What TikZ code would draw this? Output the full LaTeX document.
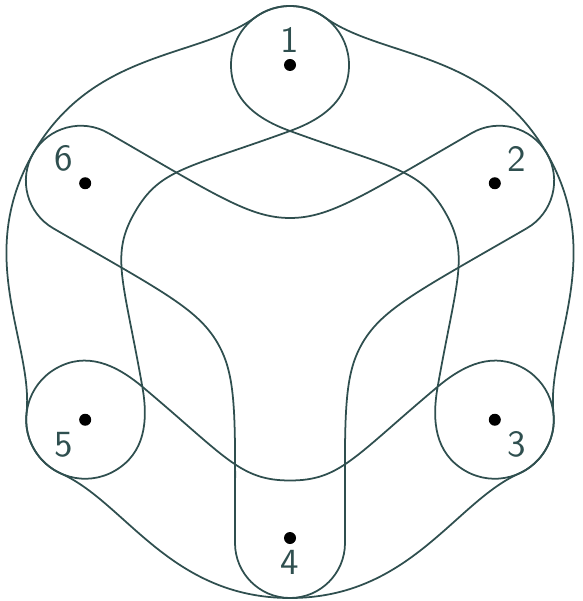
\documentclass[tikz,border=0pt]{standalone}
\usepackage{tikz}
\definecolor{slate}{HTML}{2F4F4F}
\begin{document}
\begin{tikzpicture}[
    band/.style={draw=slate, line width=0.5pt},
    vertex/.style={circle, fill=black, inner sep=0pt, minimum size=1.2mm},
    label distance=-2pt,
    every label/.style={text=slate, font=\sffamily\fontsize{10.5}{12}\selectfont}]
    \useasboundingbox (-2.90,-2.995) rectangle (2.92,3.015);

    % curve with loops at 1, 3, 5
    \draw[band] (90:1.705) .. controls +(20:0.35) and +(270:0.35) .. (0.59,2.365) arc[start angle=0, end angle=180, radius=0.59] .. controls +(270:0.35) and +(160:0.35) .. (90:1.705) .. controls +(-20:1.1) and +(120:0.5) .. (30:1.79) .. controls +(-60:0.5) and +(80:1.1) .. (-30:1.705);
    \draw[band, rotate=-120] (90:1.705) .. controls +(20:0.35) and +(270:0.35) .. (0.59,2.365) arc[start angle=0, end angle=180, radius=0.59] .. controls +(270:0.35) and +(160:0.35) .. (90:1.705) .. controls +(-20:1.1) and +(120:0.5) .. (30:1.79) .. controls +(-60:0.5) and +(80:1.1) .. (-30:1.705);
    \draw[band, rotate=120] (90:1.705) .. controls +(20:0.35) and +(270:0.35) .. (0.59,2.365) arc[start angle=0, end angle=180, radius=0.59] .. controls +(270:0.35) and +(160:0.35) .. (90:1.705) .. controls +(-20:1.1) and +(120:0.5) .. (30:1.79) .. controls +(-60:0.5) and +(80:1.1) .. (-30:1.705);

    % curve with lobes at 2, 4, 6
    \draw[band] (-0.55,-2.415) arc[start angle=180, end angle=360, radius=0.55] .. controls +(90:1.25) and +(240:0.4) .. (-30:0.835) .. controls +(60:0.4) and +(210:1.25) .. (2.3665,0.7312);
    \draw[band, rotate=120] (-0.55,-2.415) arc[start angle=180, end angle=360, radius=0.55] .. controls +(90:1.25) and +(240:0.4) .. (-30:0.835) .. controls +(60:0.4) and +(210:1.25) .. (2.3665,0.7312);
    \draw[band, rotate=240] (-0.55,-2.415) arc[start angle=180, end angle=360, radius=0.55] .. controls +(90:1.25) and +(240:0.4) .. (-30:0.835) .. controls +(60:0.4) and +(210:1.25) .. (2.3665,0.7312);

    % outer curve
    \draw[band] (-2.288,-1.7215) .. controls +(-24:0.7) and +(180:1.2) .. (0,-2.965) .. controls +(0:1.2) and +(204:0.7) .. (2.288,-1.7215) arc[start angle=294, end angle=366, radius=0.59];
    \draw[band, rotate=120] (-2.288,-1.7215) .. controls +(-24:0.7) and +(180:1.2) .. (0,-2.965) .. controls +(0:1.2) and +(204:0.7) .. (2.288,-1.7215) arc[start angle=294, end angle=366, radius=0.59];
    \draw[band, rotate=240] (-2.288,-1.7215) .. controls +(-24:0.7) and +(180:1.2) .. (0,-2.965) .. controls +(0:1.2) and +(204:0.7) .. (2.288,-1.7215) arc[start angle=294, end angle=366, radius=0.59];

    % points
    \node[vertex, label=above:1] (p1) at (90:2.365) {};
    \node[vertex, label=above right:2] (p2) at (30:2.365) {};
    \node[vertex, label=below right:3] (p3) at (-30:2.365) {};
    \node[vertex, label=below:4] (p4) at (-90:2.365) {};
    \node[vertex, label=below left:5] (p5) at (210:2.365) {};
    \node[vertex, label=above left:6] (p6) at (150:2.365) {};
\end{tikzpicture}
\end{document}
